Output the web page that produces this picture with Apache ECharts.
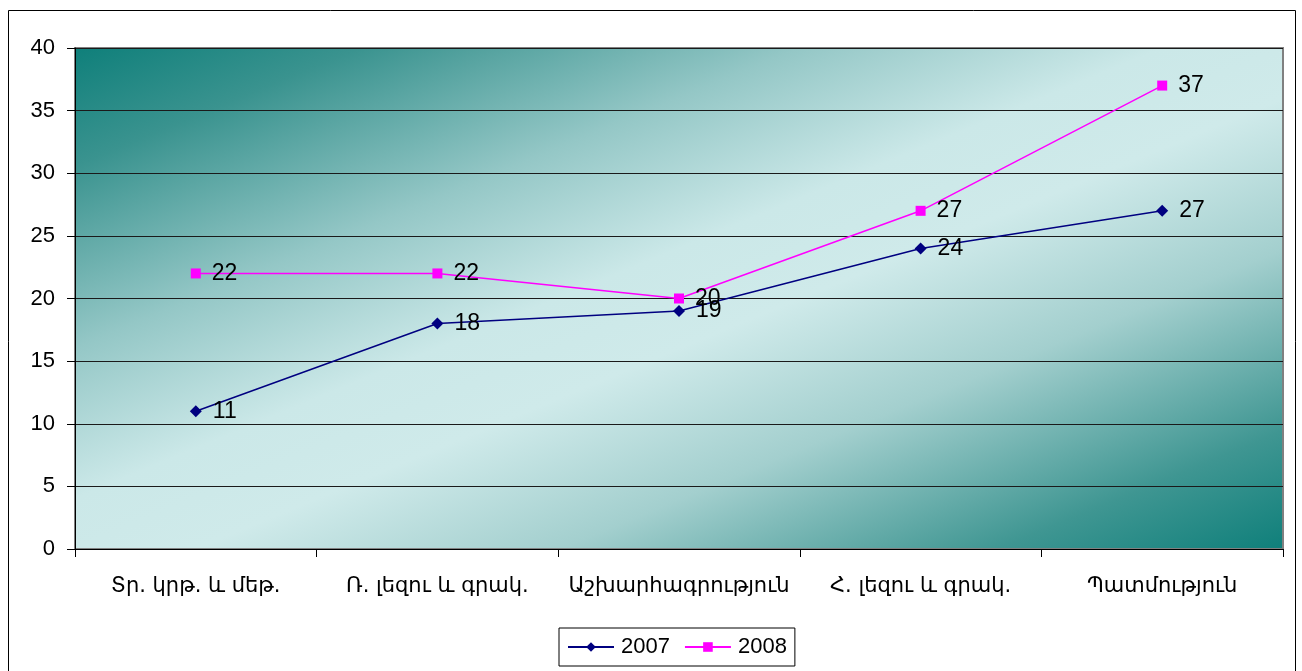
<!DOCTYPE html>
<html><head><meta charset="utf-8">
<script src="https://cdn.jsdelivr.net/npm/echarts@6/dist/echarts.min.js"></script>
<style>html,body{margin:0;padding:0;background:#fff}#c{width:1302px;height:671px}</style>
</head><body><div id="c"></div>
<script>
const categories = ['Տր. կրթ. և մեթ.', 'Ռ. լեզու և գրակ.', 'Աշխարհագրություն', 'Հ. լեզու և գրակ.', 'Պատմություն'];
const series2007 = [11, 18, 19, 24, 27];
const series2008 = [22, 22, 20, 27, 37];
const seriesNames = ['2007', '2008'];

const chart = echarts.init(document.getElementById('c'));
const lblFont = "'Liberation Sans', Arial, sans-serif";
const labelCfg = {show: true, position: 'right', distance: 11, fontSize: 23, color: '#000', fontFamily: lblFont};
chart.setOption({
  animation: false,
  graphic: [{type: 'rect', shape: {x: 8.5, y: 10.5, width: 1287, height: 700}, style: {fill: 'none', stroke: '#000', lineWidth: 1}, z: -1}],
  grid: {
    left: 75, right: 19, top: 48, bottom: 122, show: true,
    borderColor: '#808080', borderWidth: 2,
    backgroundColor: {type: 'linear', x: 0.353, y: -0.354, x2: 0.647, y2: 1.354, colorStops: [
      {offset: 0, color: '#0e7f7a'}, {offset: 0.12, color: '#3a938f'}, {offset: 0.3, color: '#94c7c6'},
      {offset: 0.45, color: '#cbe8e8'}, {offset: 0.55, color: '#cfeaea'}, {offset: 0.7, color: '#a3cfce'},
      {offset: 0.88, color: '#3f9692'}, {offset: 1, color: '#0e7f7a'}]}
  },
  legend: {
    left: 559, top: 628, data: seriesNames, borderColor: '#000', borderWidth: 1, backgroundColor: '#fff',
    padding: [8, 8, 8, 8], itemWidth: 46, itemHeight: 12, itemGap: 14,
    textStyle: {fontSize: 22, color: '#000', fontFamily: lblFont, padding: [0, 0, 0, 2]}
  },
  xAxis: {
    type: 'category', data: categories, boundaryGap: true,
    axisLine: {lineStyle: {color: '#000', width: 1}},
    axisTick: {show: true, length: 8, interval: 0, lineStyle: {color: '#000'}},
    axisLabel: {interval: 0, fontSize: 21, color: '#000', margin: 27, fontFamily: "'DejaVu Sans', 'Noto Sans', sans-serif"}
  },
  yAxis: {
    type: 'value', min: 0, max: 40, interval: 5,
    axisLine: {show: true, lineStyle: {color: '#000', width: 1}},
    axisTick: {show: true, length: 8, lineStyle: {color: '#000'}},
    axisLabel: {fontSize: 22, color: '#000', margin: 20, fontFamily: lblFont},
    splitLine: {lineStyle: {color: '#1a1a1a', width: 1}}
  },
  series: [
    {name: seriesNames[0], type: 'line', data: series2007, symbol: 'diamond', symbolSize: 12,
     lineStyle: {color: '#000080', width: 1.5}, itemStyle: {color: '#000080'}, label: labelCfg},
    {name: seriesNames[1], type: 'line', data: series2008, symbol: 'rect', symbolSize: 10,
     lineStyle: {color: '#ff00ff', width: 1.5}, itemStyle: {color: '#ff00ff'}, label: labelCfg}
  ]
});
</script></body></html>
